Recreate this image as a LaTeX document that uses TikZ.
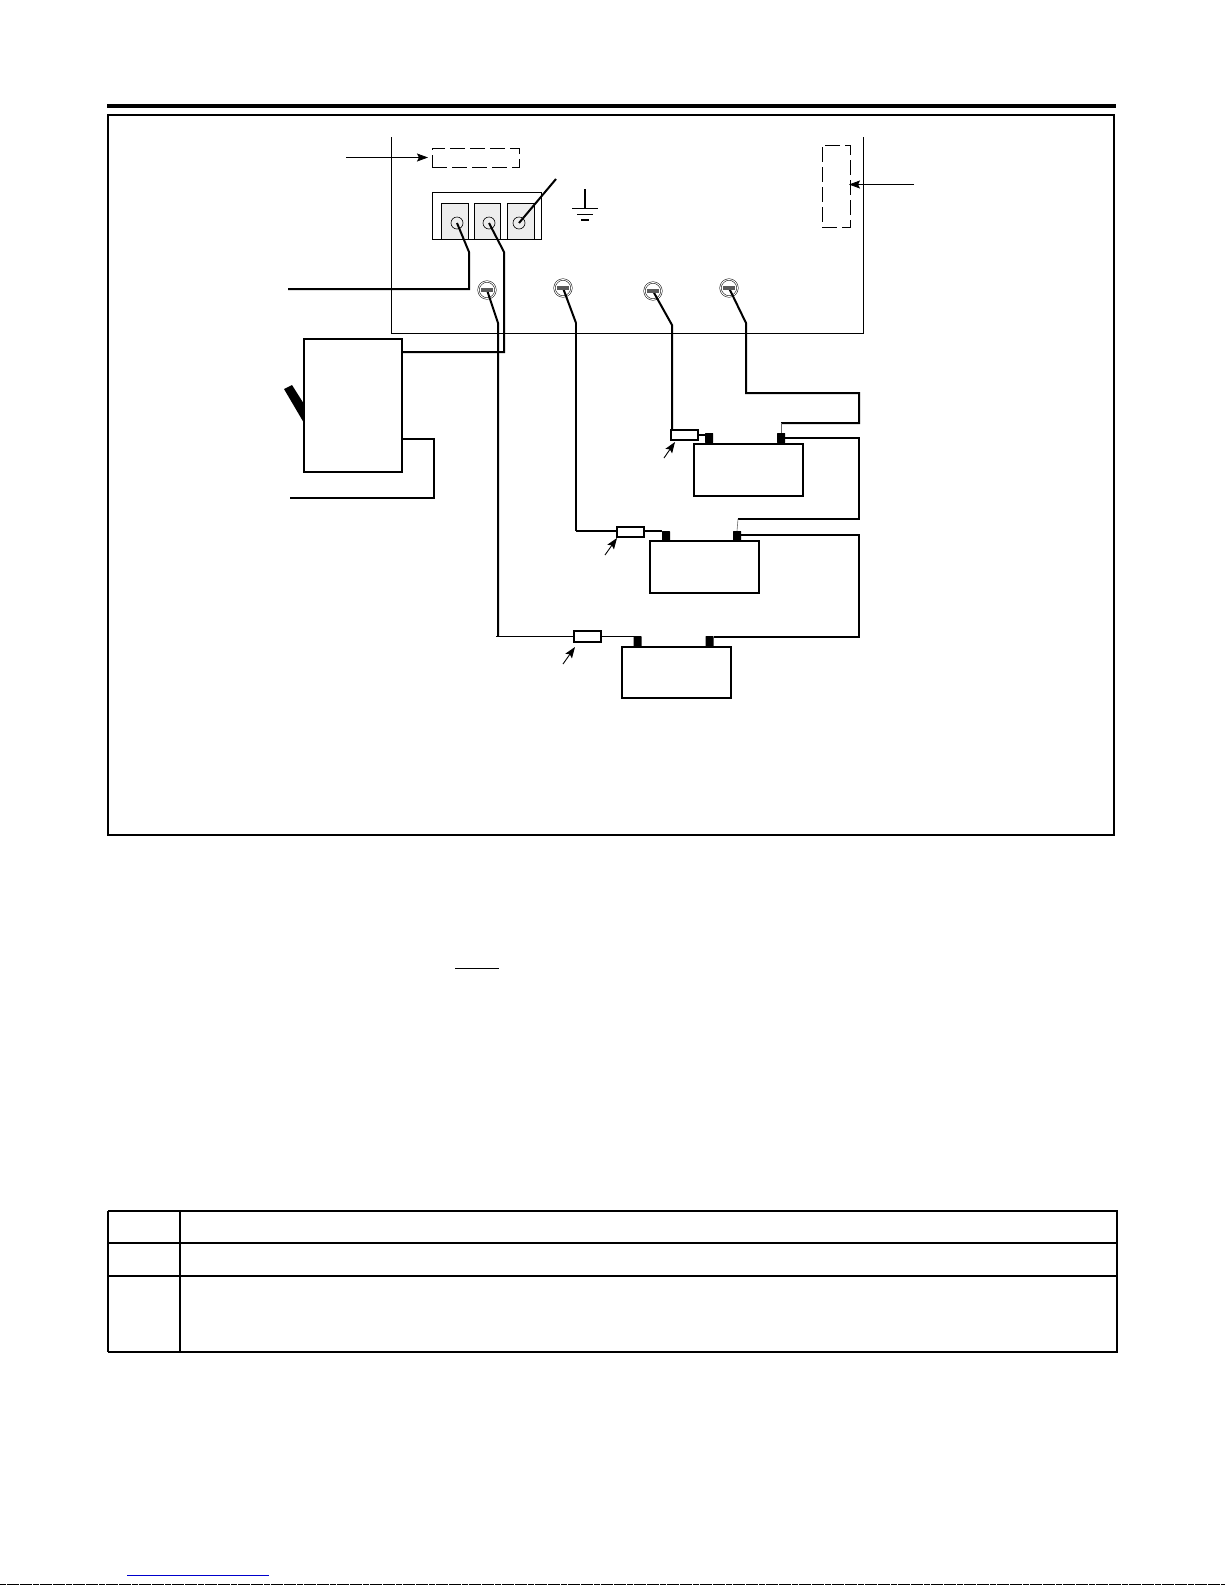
\documentclass[tikz,border=0pt]{standalone}
\usetikzlibrary{arrows.meta}
\tikzset{
  x=1pt,y=-1pt,
  boxnode/.style={draw,rectangle,inner sep=0pt,outer sep=0pt,line width=#1},
  boxnode/.default=2pt,
  batt/.style={boxnode,minimum width=109pt,minimum height=52pt},
  term/.style={rectangle,fill=black,inner sep=0pt,outer sep=0pt,minimum width=8pt,minimum height=10pt,rounded corners=0.5pt},
  fuse/.style={boxnode=2pt,fill=white,minimum width=27pt,minimum height=10.5pt},
  gbox/.style={boxnode=1pt,fill=black!7,minimum width=27pt,minimum height=36pt},
  lug/.style={circle,draw,line width=0.6pt,inner sep=0pt,outer sep=0pt,minimum size=12pt},
  screw/.style={circle,draw,line width=0.5pt,inner sep=0pt,outer sep=0pt,minimum size=17pt,double,double distance=1pt},
  wire/.style={line width=2pt,line join=miter},
  thinwire/.style={line width=1.2pt},
  hair/.style={line width=0.6pt,black!60},
  panel/.style={line width=1pt},
  dash box/.style={boxnode=1pt,dash pattern=on 15pt off 5pt},
  pointer/.style={line width=0.9pt,-{Stealth[length=11pt,width=8pt,inset=2pt]}},
  heavy/.style={line width=2.4pt},
}
\newcommand{\slot}[1]{\fill[black!65] ([xshift=-6pt,yshift=-1.7pt]#1) rectangle ([xshift=6pt,yshift=1.7pt]#1);}
\begin{document}
\begin{tikzpicture}
\useasboundingbox (0,0) rectangle (1225,1585);
% page rule and frame
\coordinate (ruleL) at (107,106); \coordinate (ruleR) at (1116,106);
\draw[line width=4pt] (ruleL) -- (ruleR);
\node[boxnode=2pt,minimum width=1006pt,minimum height=720pt] (frame) at (611,475) {};
% panel outline
\coordinate (pTL) at (391.5,137); \coordinate (pBL) at (391.5,333);
\coordinate (pBR) at (863.5,333); \coordinate (pTR) at (863.5,137);
\draw[panel] (pTL) -- (pBL) -- (pBR) -- (pTR);
% dashed boxes and pointers
\node[dash box,minimum width=87pt,minimum height=19pt] (dashA) at (475.5,157.5) {};
\coordinate (dashAs) at (346,157.5);
\draw[pointer] (dashAs) -- ([xshift=-4pt]dashA.west);
\node[dash box,minimum width=28pt,minimum height=82pt] (dashB) at (836,186) {};
\coordinate (dashBs) at (914,184.5);
\coordinate (dashBe) at (849,184.5);
\draw[pointer] (dashBs) -- (dashBe);
% terminal block
\node[boxnode=1pt,minimum width=109pt,minimum height=47pt] (block) at (486.5,215.5) {};
\node[gbox] (g1) at (454.5,221) {};
\node[gbox,minimum width=26pt] (g2) at (487,221) {};
\node[gbox] (g3) at (520.5,221) {};
\node[lug] (l1) at (457,223) {};
\node[lug] (l2) at (489,223) {};
\node[lug] (l3) at (519,223) {};
% ground
\coordinate (gTop) at (585,189); \coordinate (gBot) at (585,208.5);
\draw[line width=1.1pt] (gTop) -- (gBot);
\draw[line width=1.1pt] (572,208.5) -- (598,208.5);
\draw[line width=1.1pt] (577,214.5) -- (593,214.5);
\draw[line width=1.1pt] (581,220) -- (589,220);
% screws
\node[screw] (s1) at (487,290) {};
\node[screw] (s2) at (563,288) {};
\node[screw] (s3) at (653,291) {};
\node[screw] (s4) at (729,288) {};
% left unit and switch
\node[boxnode=2pt,minimum width=98pt,minimum height=133pt] (unit) at (353,405.5) {};
\fill (284,389) -- (292,385) -- (304,404) -- (304,423) -- cycle;
% batteries
\node[batt] (b1) at (748.5,469.5) {};
\node[batt] (b2) at (704.5,567) {};
\node[batt,minimum height=51pt] (b3) at (676.5,672.5) {};
\node[term] (t1a) at (709,438) {}; \node[term] (t1b) at (781,438) {};
\node[term] (t2a) at (666,536) {}; \node[term] (t2b) at (737,536) {};
\node[term,minimum height=11pt] (t3a) at (637.5,641.5) {}; \node[term,minimum height=11pt] (t3b) at (709.5,641.5) {};
% fuses
\node[fuse] (f1) at (684,435) {};
\node[fuse] (f2) at (630.5,532) {};
\node[fuse] (f3) at (587.5,636.5) {};
% wires
\coordinate (w1a) at (469,252); \coordinate (w1b) at (469,289); \coordinate (w1e) at (288,289);
\draw[wire] (l1.center) -- (w1a) -- (w1b) -- (w1e);
\coordinate (w2a) at (504,252); \coordinate (w2b) at (504,352);
\draw[wire] (l2.center) -- (w2a) -- (w2b) -- (unit.east |- w2b);
\coordinate (w3) at (556,179);
\draw[wire] (l3.center) -- (w3);
\coordinate (w4a) at (498,323); \coordinate (w4b) at (498,636); \coordinate (w4c) at (496,636.5);
\draw[wire] (s1.center) -- (w4a) -- (w4b);
\draw[thinwire] (w4c) -- (f3.west |- w4c);
\draw[thinwire] (f3.east |- w4c) -- (t3a.west |- w4c);
\coordinate (w5a) at (576,323); \coordinate (w5b) at (576,531);
\draw[wire] (s2.center) -- (w5a);
\draw[thinwire] (w5a) -- (w5b);
\draw[wire] (w5b) -- (f2.west |- w5b);
\draw[wire] (f2.east |- w5b) -- (t2a.west |- w5b);
\coordinate (w6a) at (672,325);
\draw[wire] (s3.center) -- (w6a) -- (w6a |- f1.north);
\draw[wire] (f1.east) -- (t1a.west |- f1.east);
\coordinate (w7a) at (746,323); \coordinate (w7b) at (746,393); \coordinate (w7c) at (859,393); \coordinate (w7d) at (859,423); \coordinate (w7e) at (781,423);
\draw[wire] (s4.center) -- (w7a) -- (w7b) -- (w7c) -- (w7d) -- (w7e);
\draw[hair] (w7e) -- (t1b.north);
\coordinate (w8a) at (859,438); \coordinate (w8b) at (859,519); \coordinate (w8c) at (738,519);
\draw[wire] (t1b.east |- w8a) -- (w8a) -- (w8b) -- (w8c);
\draw[hair] (w8c) -- (t2b.north);
\coordinate (w9a) at (859,535); \coordinate (w9b) at (859,637);
\draw[wire] (t2b.east |- w9a) -- (w9a) -- (w9b) -- (t3b.east |- w9b);
\coordinate (w10a) at (434,439); \coordinate (w10b) at (434,498); \coordinate (w10c) at (290,498);
\draw[wire] (unit.east |- w10a) -- (w10a) -- (w10b) -- (w10c);
% screw slots over the wire ends
\slot{s1} \slot{s2} \slot{s3} \slot{s4}
% fuse pointers
\coordinate (a1) at (664,458); \coordinate (a1e) at (675,442);
\coordinate (a2) at (605,555); \coordinate (a2e) at (617,538);
\coordinate (a3) at (563,664); \coordinate (a3e) at (575,647);
\draw[pointer] (a1) -- (a1e);
\draw[pointer] (a2) -- (a2e);
\draw[pointer] (a3) -- (a3e);
% underline
\coordinate (uL) at (455,968); \coordinate (uR) at (499,968);
\draw[line width=1pt] (uL) -- (uR);
% table
\coordinate (tL) at (108,1211); \coordinate (tR) at (1118,1211);
\draw[line width=1.3pt] (tL) -- (tR);
\draw[line width=2.2pt] (108,1243) -- (1118,1243);
\draw[line width=1.3pt] (108,1276) -- (1118,1276);
\draw[line width=2.2pt] (108,1352) -- (1118,1352);
\draw[line width=1.3pt] (108,1210.5) -- (108,1352);
\draw[line width=1.3pt] (180,1210.5) -- (180,1352);
\draw[line width=1.3pt] (1117,1210.5) -- (1117,1352);
% blue link and bottom scan line
\coordinate (blL) at (127,1575); \coordinate (blR) at (269,1575);
\draw[line width=1pt,color=blue!80!black] (blL) -- (blR);
\coordinate (scL) at (0,1584.5); \coordinate (scR) at (1225,1584.5);
\draw[line width=1pt,dash pattern=on 6pt off 0.6pt] (scL) -- (scR);
\end{tikzpicture}
\end{document}
